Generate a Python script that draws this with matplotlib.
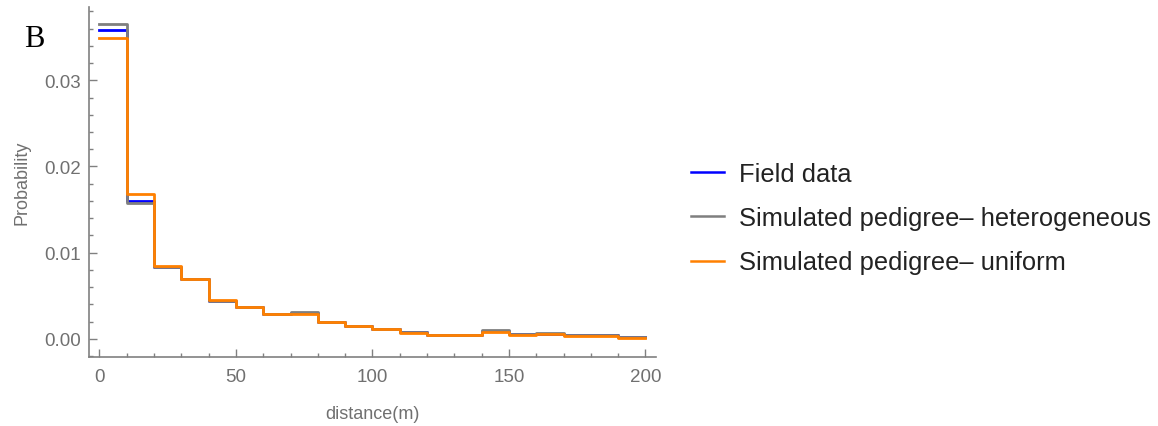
import matplotlib
matplotlib.use("Agg")
import matplotlib.pyplot as plt
import numpy as np
from matplotlib.ticker import MultipleLocator

plt.rcParams['font.family'] = ['Liberation Sans', 'DejaVu Sans']

bin_edges = [0, 10, 20, 30, 40, 50, 60, 70, 80, 90, 100, 110, 120, 130, 140, 150, 160, 170, 180, 190, 200]
field = [0.0358, 0.0160, 0.0083, 0.0069, 0.0044, 0.0037, 0.0029, 0.0030, 0.0020, 0.0015,
         0.0012, 0.0008, 0.0005, 0.0005, 0.0009, 0.0006, 0.0006, 0.0004, 0.0004, 0.0002]
hetero = [0.0365, 0.0158, 0.0083, 0.0069, 0.0044, 0.0037, 0.0029, 0.0031, 0.0020, 0.0015,
          0.0012, 0.0008, 0.0005, 0.0005, 0.0010, 0.0006, 0.0007, 0.0004, 0.0004, 0.0002]
uniform = [0.0349, 0.0168, 0.0085, 0.0070, 0.0045, 0.0037, 0.0029, 0.0029, 0.0020, 0.0015,
           0.0011, 0.0007, 0.0005, 0.0005, 0.0008, 0.0005, 0.0006, 0.0003, 0.0003, 0.0001]
labels = ["Field data", "Simulated pedigree\u2013 heterogeneous", "Simulated pedigree\u2013 uniform"]
colors = ["#0000ff", "#7f7f7f", "#ff8000"]

fig = plt.figure(figsize=(11.58, 4.27), dpi=100)
ax = fig.add_axes([0.0771, 0.1616, 0.4897, 0.8197])

for vals, lab, c in zip([field, hetero, uniform], labels, colors):
    ax.step(bin_edges, list(vals) + [vals[-1]], where='post', color=c, lw=2.0, label=lab)

ax.set_xlim(-3.7, 204)
ax.set_ylim(-0.0021, 0.0385)
ax.xaxis.set_major_locator(MultipleLocator(50))
ax.xaxis.set_minor_locator(MultipleLocator(10))
ax.yaxis.set_major_locator(MultipleLocator(0.01))
ax.yaxis.set_minor_locator(MultipleLocator(0.002))
ax.set_yticks([0.0, 0.01, 0.02, 0.03])
ax.set_yticklabels(["0.00", "0.01", "0.02", "0.03"])

gray = "#808080"
for s in ['top', 'right']:
    ax.spines[s].set_visible(False)
for s in ['left', 'bottom']:
    ax.spines[s].set_color(gray)
    ax.spines[s].set_linewidth(1.2)
ax.tick_params(which='major', direction='in', length=6, width=1.0, color=gray,
               labelcolor="#707070", labelsize=13.5)
ax.tick_params(axis='y', which='major', pad=6)
ax.tick_params(axis='x', which='major', pad=8)
ax.tick_params(which='minor', direction='in', length=3, width=1.0, color=gray)

ax.set_xlabel("distance(m)", color="#707070", fontsize=13, labelpad=14)
ax.set_ylabel("Probability", color="#707070", fontsize=13, labelpad=10)

fig.text(0.0207, 0.908, "B", fontsize=22, family=['Liberation Serif', 'DejaVu Serif'],
         ha='left', va='center', color='black')

leg = fig.legend(loc='center left', bbox_to_anchor=(0.5765, 0.487), frameon=False,
                 fontsize=18.4, handlelength=1.3, handletextpad=0.6, labelspacing=0.8)
for t in leg.get_texts():
    t.set_color("#222222")
for h in leg.legend_handles:
    h.set_linewidth(1.8)

fig.savefig("out.png", dpi=100, facecolor='white')
